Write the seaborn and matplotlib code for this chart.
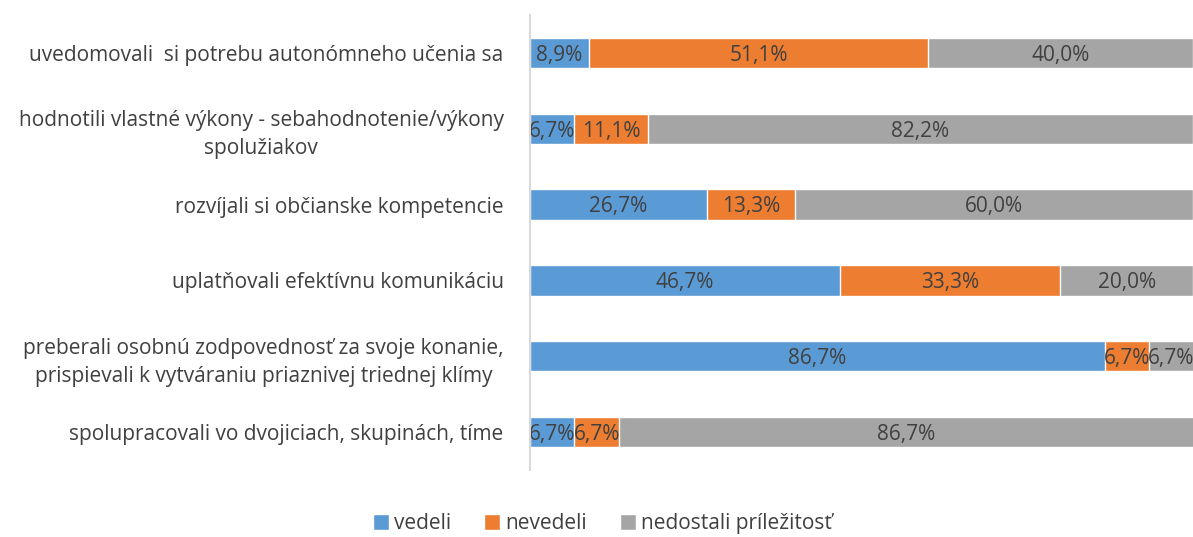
import numpy as np
import pandas as pd
import matplotlib
matplotlib.use("Agg")
import matplotlib.pyplot as plt
import seaborn as sns
from matplotlib.patches import Patch

categories = [
    "uvedomovali  si potrebu autonómneho učenia sa",
    "hodnotili vlastné výkony - sebahodnotenie/výkony\nspolužiakov",
    "rozvíjali si občianske kompetencie",
    "uplatňovali efektívnu komunikáciu",
    "preberali osobnú zodpovednosť za svoje konanie,\nprispievali k vytváraniu priaznivej triednej klímy",
    "spolupracovali vo dvojiciach, skupinách, tíme",
]
vedeli = [8.9, 6.7, 26.7, 46.7, 86.7, 6.7]
nevedeli = [51.1, 11.1, 13.3, 33.3, 6.7, 6.7]
nedostali = [40.0, 82.2, 60.0, 20.0, 6.7, 86.7]
series_names = ["vedeli", "nevedeli", "nedostali príležitosť"]
colors = ["#5B9BD5", "#ED7D31", "#A5A5A5"]

sns.set_style("white")
plt.rcParams["font.family"] = ["Open Sans", "DejaVu Sans"]
text_color = "#404040"

df = pd.DataFrame({"cat": categories, "vedeli": vedeli,
                   "nevedeli": nevedeli, "nedostali": nedostali})
df["c1"] = df["vedeli"]
df["c2"] = df["vedeli"] + df["nevedeli"]
df["c3"] = df["c2"] + df["nedostali"]

fig = plt.figure(figsize=(11.93, 5.37), dpi=100)
ax = fig.add_axes([0.4443, 0.125, 0.5557, 0.847])

# stacked bars: draw cumulative totals from back to front
for col, color in zip(["c3", "c2", "c1"], colors[::-1]):
    sns.barplot(data=df, x=col, y="cat", orient="h", color=color,
                width=0.4, edgecolor="white", linewidth=1.0,
                saturation=1, ax=ax)

# segment labels
for i, row in df.iterrows():
    lefts = [0, row["c1"], row["c2"]]
    widths = [row["vedeli"], row["nevedeli"], row["nedostali"]]
    for l, w in zip(lefts, widths):
        ax.text(l + w / 2, i + 0.03, f"{w:.1f}%".replace(".", ","),
                ha="center", va="center", fontsize=15, color=text_color)

ax.set_xlim(0, 100)
ax.set_ylim(5.5, -0.5)
ax.set_xlabel("")
ax.set_ylabel("")
ax.set_xticks([])
ax.tick_params(axis="y", length=0, pad=19, labelsize=15, labelcolor=text_color)
for lbl in ax.get_yticklabels():
    lbl.set_multialignment("center")
    lbl.set_linespacing(1.45)
for s in ["top", "right", "bottom"]:
    ax.spines[s].set_visible(False)
ax.spines["left"].set_color("#D9D9D9")
ax.spines["left"].set_linewidth(1.5)
ax.spines["left"].set_zorder(5)

handles = [Patch(facecolor=c, label=n) for c, n in zip(colors, series_names)]
leg = fig.legend(handles=handles, loc="lower center", bbox_to_anchor=(0.505, -0.03),
                 ncol=3, frameon=False, fontsize=15, handlelength=0.75,
                 handleheight=0.75, handletextpad=0.25, columnspacing=1.6)
for t in leg.get_texts():
    t.set_color(text_color)

fig.savefig("out.png", dpi=100, facecolor="white")
